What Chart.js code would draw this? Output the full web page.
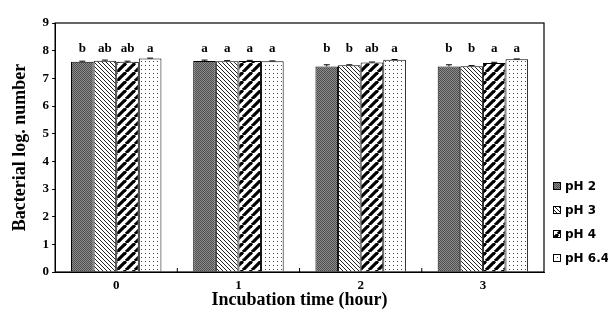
<!DOCTYPE html>
<html>
<head>
<meta charset="utf-8">
<script src="https://cdn.jsdelivr.net/npm/chart.js@4.4.0/dist/chart.umd.min.js"></script>
<style>
  html,body{margin:0;padding:0;background:#fff;}
  #wrap{width:608px;height:313px;}
</style>
</head>
<body>
<div id="wrap"><canvas id="c" width="608" height="313"></canvas></div>
<script>
// data
const hours = ['0', '1', '2', '3'];
const seriesNames = ['pH 2', 'pH 3', 'pH 4', 'pH 6.4'];
const ph2 = [7.60, 7.63, 7.43, 7.43];
const ph3 = [7.64, 7.62, 7.47, 7.44];
const ph4 = [7.60, 7.63, 7.57, 7.55];
const ph64 = [7.72, 7.62, 7.67, 7.69];
const ph2Err = [0.02, 0.03, 0.06, 0.06];
const ph3Err = [0.02, 0.02, 0.02, 0.02];
const ph4Err = [0.02, 0.02, 0.02, 0.03];
const ph64Err = [0.01, 0.01, 0.01, 0.01];
const ph2Letters = ['b', 'a', 'b', 'b'];
const ph3Letters = ['ab', 'a', 'b', 'b'];
const ph4Letters = ['ab', 'a', 'ab', 'a'];
const ph64Letters = ['a', 'a', 'a', 'a'];
const yTicks = [0, 1, 2, 3, 4, 5, 6, 7, 8, 9];

const serif = '"Liberation Serif", "Times New Roman", serif';

function makePattern(size, draw){
  const cv = document.createElement('canvas');
  cv.width = size; cv.height = size;
  const g = cv.getContext('2d');
  draw(g, size);
  return document.getElementById('c').getContext('2d').createPattern(cv, 'repeat');
}

// dark gray fine checker
const patGray = makePattern(2, (g)=>{
  g.fillStyle = '#8c8c8c'; g.fillRect(0,0,2,2);
  g.fillStyle = '#4e4e4e'; g.fillRect(0,0,1,1); g.fillRect(1,1,1,1);
});
// thin back-slash lines
const patBack = makePattern(4, (g, s)=>{
  g.fillStyle = '#fff'; g.fillRect(0,0,s,s);
  g.fillStyle = '#222';
  for(let i=0;i<s;i++) g.fillRect(i,i,1,1);
});
// thick forward-slash stripes
const patFwd = makePattern(9, (g, s)=>{
  g.fillStyle = '#fff'; g.fillRect(0,0,s,s);
  g.strokeStyle = '#000'; g.lineWidth = 3.2;
  for(let k=-1;k<=1;k++){
    g.beginPath(); g.moveTo(k*s, s); g.lineTo(k*s+s, 0); g.stroke();
  }
});
// dots on white
const patDots = makePattern(4, (g, s)=>{
  g.fillStyle = '#fff'; g.fillRect(0,0,s,s);
  g.fillStyle = '#444'; g.fillRect(1,1,1,1);
});

const values = [ph2, ph3, ph4, ph64];
const errs = [ph2Err, ph3Err, ph4Err, ph64Err];
const letters = [ph2Letters, ph3Letters, ph4Letters, ph64Letters];
const fills = [patGray, patBack, patFwd, patDots];

const datasets = seriesNames.map((name, i)=>({
  label: name,
  data: values[i],
  backgroundColor: fills[i],
  borderColor: '#000',
  borderWidth: 1,
  categoryPercentage: 0.74,
  barPercentage: 1.0,
}));

// frame, error bars, significance letters, x ticks and legend
const extras = {
  id: 'extras',
  afterDatasetsDraw(chart){
    const ctx = chart.ctx;
    const y = chart.scales.y;
    const x = chart.scales.x;
    const a = chart.chartArea;
    ctx.save();
    ctx.strokeStyle = '#000';
    ctx.lineWidth = 1;
    chart.data.datasets.forEach((ds, i)=>{
      const meta = chart.getDatasetMeta(i);
      meta.data.forEach((bar, j)=>{
        const v = ds.data[j];
        const top = y.getPixelForValue(v + errs[i][j]);
        ctx.beginPath();
        ctx.moveTo(bar.x, bar.y); ctx.lineTo(bar.x, top);
        ctx.moveTo(bar.x - 3, top); ctx.lineTo(bar.x + 3, top);
        ctx.stroke();
        ctx.fillStyle = '#000';
        ctx.font = 'bold 13px ' + serif;
        ctx.textAlign = 'center';
        ctx.textBaseline = 'bottom';
        ctx.fillText(letters[i][j], bar.x, y.getPixelForValue(7.72) - 3);
      });
    });
    // small inner ticks between groups
    for(let j=0;j<hours.length-1;j++){
      const px = (x.getPixelForTick(j) + x.getPixelForTick(j+1)) / 2;
      ctx.beginPath(); ctx.moveTo(px, a.bottom); ctx.lineTo(px, a.bottom - 4); ctx.stroke();
    }
    ctx.lineWidth = 1.2;
    ctx.strokeRect(a.left, a.top, a.right - a.left, a.bottom - a.top);
    // legend
    ctx.font = 'bold 12px "DejaVu Sans", sans-serif';
    ctx.textAlign = 'left';
    ctx.textBaseline = 'middle';
    ctx.lineWidth = 1;
    seriesNames.forEach((name, i)=>{
      const cy = 186 + i * 24;
      const bx = a.right + 9;
      ctx.fillStyle = fills[i];
      ctx.fillRect(bx, cy - 4, 8, 8);
      ctx.strokeRect(bx + 0.5, cy - 3.5, 7, 7);
      ctx.fillStyle = '#000';
      ctx.fillText(name, bx + 12, cy + 1);
    });
    ctx.restore();
  }
};

new Chart(document.getElementById('c'), {
  type: 'bar',
  data: { labels: hours, datasets },
  plugins: [extras],
  options: {
    responsive: false,
    animation: false,
    layout: { padding: { top: 23, right: 64, bottom: 0, left: 10 } },
    plugins: {
      legend: { display: false },
      tooltip: { enabled: false }
    },
    scales: {
      x: {
        afterFit(axis){ axis.height = 41; },
        grid: { display: false, drawTicks: false },
        border: { color: '#000', width: 1 },
        ticks: { color: '#000', font: { family: serif, size: 13, weight: 'bold' }, padding: 6 },
        title: { display: true, text: 'Incubation time (hour)', color: '#000',
                 font: { family: serif, size: 18, weight: 'bold' }, padding: { top: 0, bottom: 2 } }
      },
      y: {
        min: 0, max: 9,
        afterBuildTicks(axis){ axis.ticks = yTicks.map(v=>({ value: v })); },
        grid: { display: true, drawOnChartArea: false, drawTicks: true, tickLength: 3, color: '#000' },
        border: { color: '#000', width: 1 },
        ticks: { color: '#000', font: { family: serif, size: 13, weight: 'bold' }, padding: 3 },
        title: { display: true, text: 'Bacterial log. number', color: '#000',
                 font: { family: serif, size: 18, weight: 'bold' }, padding: { top: 0, bottom: 8 } }
      }
    }
  }
});
</script>
</body>
</html>
